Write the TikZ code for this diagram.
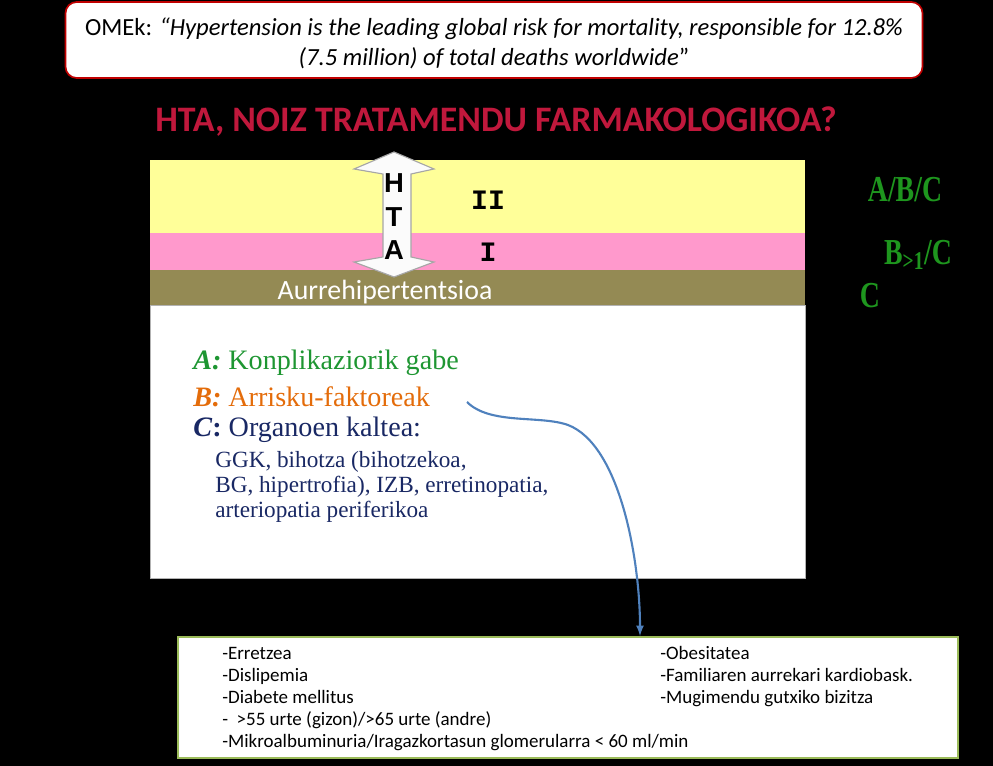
\documentclass[tikz,border=0pt]{standalone}
\usepackage{fontspec}
\setmainfont{Liberation Serif}
\setsansfont{Carlito}
\newfontfamily\arialfont{Liberation Sans}
\newfontfamily\courierfont{Liberation Mono}
\definecolor{omered}{RGB}{192,0,0}
\definecolor{titlered}{RGB}{192,24,60}
\definecolor{bandyellow}{RGB}{255,255,153}
\definecolor{bandpink}{RGB}{255,153,204}
\definecolor{bandolive}{RGB}{148,138,84}
\definecolor{gradegreen}{RGB}{30,150,30}
\definecolor{agreen}{RGB}{30,150,50}
\definecolor{borange}{RGB}{228,108,10}
\definecolor{cnavy}{RGB}{25,40,100}
\definecolor{arrowblue}{RGB}{79,129,189}
\definecolor{listgreen}{RGB}{155,187,89}
\tikzstyle{grade}=[font=\bfseries\fontsize{26}{30}\selectfont, text=gradegreen, xscale=0.76, inner sep=0pt]
\tikzstyle{level}=[font=\courierfont\bfseries\fontsize{20}{22}\selectfont, inner sep=0pt]
\tikzstyle{letter}=[font=\arialfont\bfseries\fontsize{19.5}{22}\selectfont, inner sep=0pt]
\tikzstyle{cls}=[anchor=west, inner sep=0pt, font=\fontsize{20}{24}\selectfont]
\tikzstyle{item}=[anchor=west, inner sep=0pt, align=left, font=\sffamily\fontsize{13.5}{15.65}\selectfont]

\begin{document}
\begin{tikzpicture}[x=0.025cm,y=-0.025cm]
\useasboundingbox (0,0) rectangle (993,766);
\fill[black] (0,0) rectangle (993,766);

\node (ome) at (494,40) [draw=omered, line width=1.2pt, fill=white, rounded corners=8pt, minimum width=857*0.025cm, minimum height=76*0.025cm, align=center, font=\sffamily\fontsize{17.5}{21.5}\selectfont] {};
\node (quote) at (494,43) [align=center, font=\sffamily\fontsize{17.5}{21.5}\selectfont] {OMEk: \textit{“Hypertension is the leading global risk for mortality, responsible for 12.8\%}\\\textit{(7.5 million) of total deaths worldwide}”};
\node (title) at (496,122) [text=titlered, font=\sffamily\bfseries\fontsize{25.5}{30}\selectfont] {HTA, NOIZ TRATAMENDU FARMAKOLOGIKOA?};

\fill[bandyellow] (150,160) rectangle (805,233);
\fill[bandpink] (150,233) rectangle (805,270);
\fill[bandolive] (150,270) rectangle (805,305);
\node (box) at (477.5,441.5) [draw=gray!60, fill=white, minimum width=655*0.025cm, minimum height=273*0.025cm] {};
\node (pre) at (385,292) [text=white, font=\sffamily\fontsize{19.8}{22}\selectfont] {Aurrehipertentsioa};

\draw[gray!70, fill=white!97!gray, line width=0.8pt] (394,152) -- (434,169) -- (411,174) -- (411,257) -- (434,262) -- (394,277) -- (354,262) -- (383,257) -- (383,174) -- (354,169) -- cycle;
\node (h) at (394,183) [letter] {H};
\node (t) at (394,217) [letter] {T};
\node (a) at (394,250) [letter] {A};

\node (II) at (488,200) [level] {II};
\node (I) at (488,252) [level] {I};

\node (abc) at (905,190) [grade] {A/B/C};
\node (bc) at (918,255) [grade] {B\textsubscript{>1}/C};
\node (c) at (870,296) [grade] {C};

\node (ca) at (193,363) [cls, text=agreen] {\textbf{\textit{A:}} Konplikaziorik gabe};
\node (cb) at (193,397) [cls, text=borange] {\textbf{\textit{B:}} Arrisku-faktoreak};
\node (cc) at (193,430) [cls, text=cnavy] {\textbf{\textit{C}:} Organoen kaltea:};
\node (organ) at (215,487) [anchor=west, inner sep=0pt, align=left, text=cnavy, font=\fontsize{16.5}{17.8}\selectfont] {GGK, bihotza (bihotzekoa,\\BG, hipertrofia), IZB, erretinopatia,\\arteriopatia periferikoa};

\node (list) at (568,697.5) [draw=listgreen, line width=2pt, fill=white, minimum width=780*0.025cm, minimum height=121*0.025cm] {};
\node (left) at (222,699) [item] {-Erretzea\\-Dislipemia\\-Diabete mellitus\\-\ \ >55 urte (gizon)/>65 urte (andre)\\-Mikroalbuminuria/Iragazkortasun glomerularra < 60 ml/min};
\node (right) at (660,677) [item] {-Obesitatea\\-Familiaren aurrekari kardiobask.\\-Mugimendu gutxiko bizitza};

\coordinate (from) at (467,402);
\coordinate (to) at (640,636);
\draw[->, >=latex, arrowblue, line width=1.5pt] (from) .. controls (490,425) and (540,415) .. (568,425) .. controls (620,445) and (640,560) .. (to);
\end{tikzpicture}
\end{document}
